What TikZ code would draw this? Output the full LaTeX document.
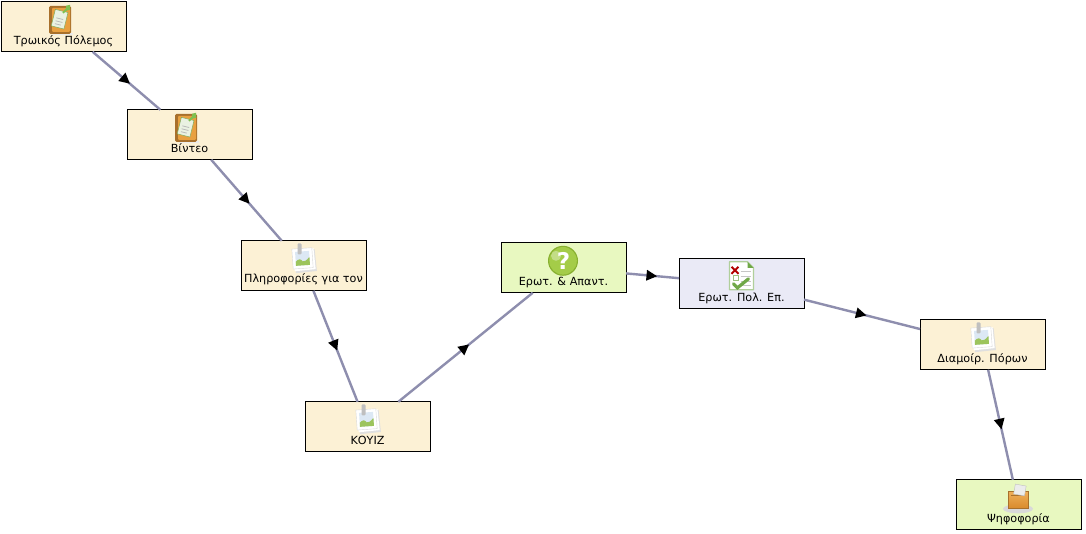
\documentclass[tikz,border=0pt]{standalone}
\usepackage{fontspec}
\setmainfont{DejaVu Sans}
\usetikzlibrary{decorations.markings,arrows.meta}
\definecolor{linkc}{HTML}{8E8EAE}
\definecolor{cream}{HTML}{FCF1D5}
\definecolor{lime}{HTML}{E8F8C0}
\definecolor{lilac}{HTML}{EAEAF6}
\definecolor{boardout}{HTML}{A8702C}
\definecolor{boardin}{HTML}{E8A040}
\definecolor{paper}{HTML}{EAF2E2}
\definecolor{pingreen}{HTML}{80C050}
\definecolor{leafgreen}{HTML}{9CC45C}
\definecolor{skyblue}{HTML}{DCE8F4}
\definecolor{qball}{HTML}{A4CC48}
\definecolor{qdark}{HTML}{88B030}
\definecolor{chk}{HTML}{70A848}
\definecolor{boxtop}{HTML}{EEAE58}
\definecolor{boxbot}{HTML}{D88A2C}
\tikzset{
  x=1pt,y=-1pt,
  box/.style={draw=black,line width=1pt,minimum width=125pt,minimum height=50pt,inner sep=0pt,outer sep=0pt},
  act/.style={box,fill=cream},
  grp/.style={box,fill=lime},
  tsk/.style={box,fill=lilac},
  lab/.style={font=\fontsize{11.2pt}{13pt}\selectfont,inner sep=0pt,text=black},
  flow/.style={draw=linkc,line width=2.4pt,postaction={decorate},
    decoration={markings,mark=at position 0.5 with {\fill[black] (4.5pt,0pt)--(-6pt,5.5pt)--(-6pt,-5.5pt)--cycle;}}},
  clipicon/.pic={
    \fill[black!8] (-7,13) rectangle (13,15);
    \fill[rounded corners=1.5pt,fill=boardout] (-11,-14) rectangle (11,14);
    \fill[rounded corners=1pt,fill=boardin] (-8,-12) rectangle (10,12);
    \begin{scope}[rotate=-14]
      \fill[paper,draw=pingreen!70!gray,line width=.5pt] (-7,-9) rectangle (6,8);
      \draw[gray!55,line width=.8pt] (-4,-1)--(3,-1) (-4,2)--(3,2) (-4,5)--(2,5);
    \end{scope}
    \draw[pingreen,line width=2pt] (3,-7)--(7,-11);
    \fill[pingreen] (6,-14) -- (10,-15) -- (10,-10) -- (6,-9) -- cycle;
  },
  photoicon/.pic={
    \begin{scope}[rotate=6]
      \fill[gray!25] (-9,-8) rectangle (12,14);
      \fill[white] (-10,-9) rectangle (11,12);
    \end{scope}
    \begin{scope}[rotate=4]
      \draw[gray!30,fill=white,line width=.4pt] (-11,-10) rectangle (9,10);
      \fill[skyblue] (-8,-7) rectangle (6,7);
      \fill[leafgreen] (-8,7) -- (-8,3) .. controls (-5,0) and (-3,0) .. (-1,3) .. controls (1,4) and (3,2) .. (6,-1) -- (6,7) -- cycle;
    \end{scope}
    \fill[gray!50,rounded corners=1pt] (-6,-15) rectangle (-2,-4);
  },
  questicon/.pic={
    \fill[qdark] (0,0) circle[radius=15pt];
    \fill[qball] (0,0) circle[radius=13.8pt];
    \fill[white,opacity=.35] (-7,-5) circle[radius=5pt];
    \node[font=\fontsize{23pt}{23pt}\bfseries\selectfont,text=white,inner sep=0pt] at (0.5,0) {?};
  },
  checkicon/.pic={
    \draw[chk!55!white,fill=white,line width=1.2pt,line join=round] (-12,-14) -- (6,-14) -- (12,-8) -- (12,14) -- (-12,14) -- cycle;
    \fill[chk] (6,-14) -- (12,-8) -- (6,-8) -- cycle;
    \draw[gray!45,line width=.8pt] (-1,-4)--(9,-4) (-1,1)--(9,1) (-1,6)--(9,6) (-1,10)--(9,10);
    \draw[red!70!black,line width=2pt] (-10,-9)--(-3,-2) (-3,-9)--(-10,-2);
    \draw[chk!70!white,line width=.9pt] (-8,0) rectangle (-3,5);
    \draw[chk,line width=3.2pt,line cap=round] (-8,8)--(-4,12)--(7,3);
  },
  ballicon/.pic={
    \fill[gray!30] (0,11) ellipse[x radius=15pt,y radius=4.5pt];
    \shade[top color=boxtop,bottom color=boxbot] (-10,-6) rectangle (10,11);
    \draw[boardout,line width=.7pt] (-10,11) -- (-10,-6) -- (10,-6) -- (10,11) -- cycle;
    \fill[boardout] (-7,-3) rectangle (7,-2);
    \begin{scope}[rotate=-10]
      \fill[gray!15,draw=gray!50,line width=.4pt] (-5,-13) rectangle (6,-3);
    \end{scope}
  },
}
\begin{document}
\begin{tikzpicture}
\useasboundingbox (0,0) rectangle (1086,534);
\fill[white] (0,0) rectangle (1086,534);
\begin{scope}[yshift=-0.8pt]
\node[act] (a) at (63.5,26) {};
\node[act] (b) at (189.5,134) {};
\node[act] (c) at (303.5,265) {};
\node[act] (d) at (367.5,426) {};
\node[grp] (e) at (563.5,267) {};
\node[tsk] (f) at (741.5,283) {};
\node[act] (g) at (982.5,344) {};
\node[grp] (h) at (1018.5,504) {};
\draw[flow] (a) -- (b);
\draw[flow] (b) -- (c);
\draw[flow] (c) -- (d);
\draw[flow] (d) -- (e);
\draw[flow] (e) -- (f);
\draw[flow] (f) -- (g);
\draw[flow] (g) -- (h);
\pic at (60,19) {clipicon};
\pic at (186,127) {clipicon};
\pic at (303.5,257.5) {photoicon};
\pic at (367.5,418.5) {photoicon};
\pic at (563,260) {questicon};
\pic at (741.5,275) {checkicon};
\pic at (982.5,336.5) {photoicon};
\pic at (1018,497) {ballicon};
\node[lab] (la) at (63.5,40.5) {Τρωικός Πόλεμος};
\node[lab] (lb) at (189.5,147.5) {Βίντεο};
\node[lab] (lc) at (303.5,278.5) {Πληροφορίες για τον};
\node[lab] (ld) at (367.5,439.5) {ΚΟΥΙΖ};
\node[lab] (le) at (563.5,281.5) {Ερωτ. \& Απαντ.};
\node[lab] (lf) at (741.5,297.5) {Ερωτ. Πολ. Επ.};
\node[lab] (lg) at (982.5,358) {Διαμοίρ. Πόρων};
\node[lab] (lh) at (1018.5,518) {Ψηφοφορία};
\end{scope}
\end{tikzpicture}
\end{document}
